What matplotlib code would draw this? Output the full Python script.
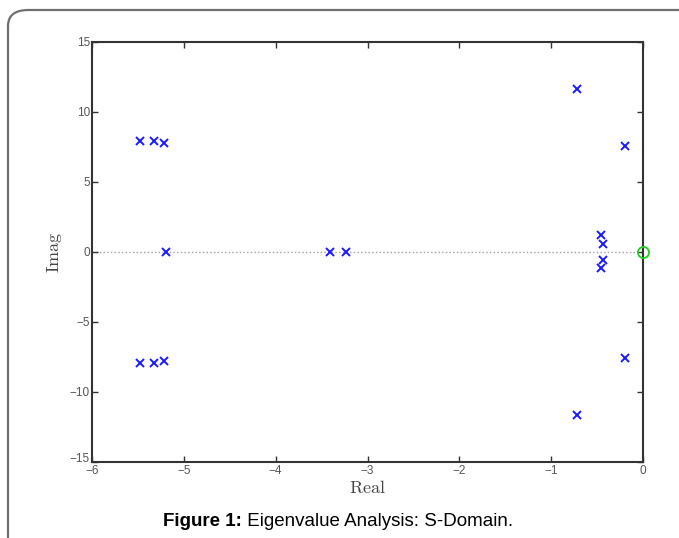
import matplotlib.pyplot as plt
import matplotlib.transforms as mtransforms
from matplotlib.patches import FancyBboxPatch

# eigenvalues (real, imag)
real_parts = [-5.48, -5.32, -5.22, -5.48, -5.32, -5.22, -5.19,
              -3.41, -3.23,
              -0.717, -0.717, -0.198, -0.198,
              -0.455, -0.44, -0.44, -0.455]
imag_parts = [7.95, 7.93, 7.8, -7.95, -7.93, -7.8, 0.0,
              0.0, 0.0,
              11.62, -11.62, 7.6, -7.6,
              1.2, 0.6, -0.55, -1.15]
zero_real = [0.0]
zero_imag = [0.0]

x_ticks = [-6, -5, -4, -3, -2, -1, 0]
y_ticks = [-15, -10, -5, 0, 5, 10, 15]

plt.rcParams['mathtext.fontset'] = 'cm'
W, H = 679, 538
fig = plt.figure(figsize=(W / 100, H / 100), dpi=100)

# rounded frame around the figure (runs off the right/bottom edge)
frame = FancyBboxPatch((8 / W, -0.2), 1.2, 1.2 - 10 / H,
                       boxstyle="round,pad=0,rounding_size=0.03",
                       transform=fig.transFigure, fill=False,
                       edgecolor='#707070', linewidth=1.6, zorder=0)
fig.patches.append(frame)

ax = fig.add_axes([92 / W, 1 - 462 / H, (643 - 92) / W, (462 - 42) / H])
ax.plot([-6, 0], [0, 0], linestyle=':', color='#a0a0a0', linewidth=1.0, zorder=1)
ax.plot(real_parts, imag_parts, linestyle='none', marker='x', color='#1a1aff',
        markersize=6, markeredgewidth=1.4, zorder=3)
ax.plot(zero_real, zero_imag, linestyle='none', marker='o', markerfacecolor='none',
        markeredgecolor='#22cc22', markersize=8, markeredgewidth=1.3, zorder=3,
        clip_on=False)

ax.set_xlim(-6, 0)
ax.set_ylim(-15, 15)
ax.set_xticks(x_ticks)
ax.set_yticks(y_ticks)
ax.set_xticklabels([str(t).replace('-', '\u2212') for t in x_ticks])
ax.set_yticklabels([str(t).replace('-', '\u2212') for t in y_ticks])
ax.tick_params(direction='in', length=4, width=1, top=True, right=True,
               labelsize=8.5, pad=1.5, colors='#333333', labelcolor='#555555')
ax.tick_params(axis='x', pad=2.5)
for tl in ax.get_xticklabels() + ax.get_yticklabels():
    tl.set_fontfamily('Liberation Sans')
# lift the bottom y label a little, as in the reference, so it clears "-6"
lbl = ax.get_yticklabels()[0]
lbl.set_transform(lbl.get_transform() +
                  mtransforms.ScaledTranslation(0, 4 / 100, fig.dpi_scale_trans))
for s in ax.spines.values():
    s.set_linewidth(1.5)
    s.set_color('#333333')

ax.set_xlabel(r'$\mathrm{Real}$', fontsize=13, color='#444444', labelpad=1)
ax.set_ylabel(r'$\mathrm{Imag}$', fontsize=13, color='#444444', labelpad=4)

# caption: bold "Figure 1:" followed by regular text, centred as a whole
cap_y = 1 - 521 / H
t1 = fig.text(0, cap_y, 'Figure 1:', fontsize=13.5, fontweight='bold',
              family='Liberation Sans', ha='left', va='center')
t2 = fig.text(0, cap_y, ' Eigenvalue Analysis: S-Domain.', fontsize=13.5,
              family='Liberation Sans', ha='left', va='center')
r = fig.canvas.get_renderer()
w1 = t1.get_window_extent(r).width
w2 = t2.get_window_extent(r).width
x0 = 338 - (w1 + w2) / 2
t1.set_x(x0 / W)
t2.set_x((x0 + w1) / W)

fig.savefig('out.png', dpi=100)
